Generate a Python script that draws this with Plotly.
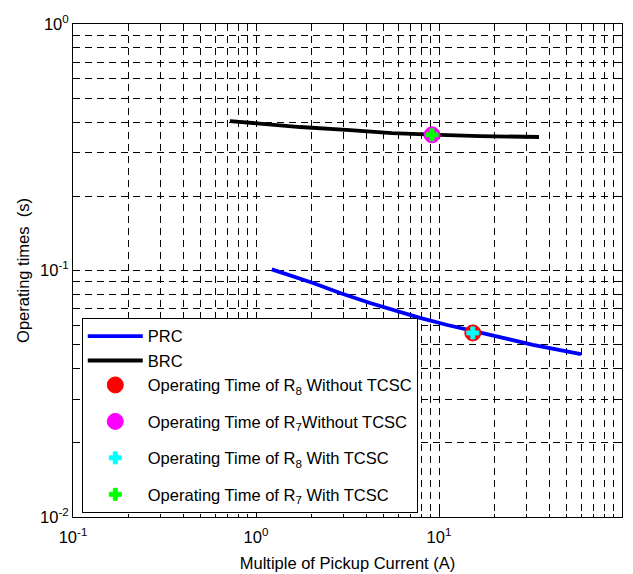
import plotly.graph_objects as go

# ---- data ----
prc_x = [1.22, 2.05, 2.88, 4.20, 7.87, 11.1, 21.5, 32.6, 59.7]
prc_y = [0.101, 0.0890, 0.0810, 0.0738, 0.0642, 0.0601, 0.0537, 0.0499, 0.0458]

brc_x = [0.72, 1.05, 1.74, 3.26, 5.53, 9.16, 16.7, 35.2]
brc_y = [0.404, 0.393, 0.382, 0.371, 0.361, 0.356, 0.351, 0.348]

r8_without = (15.3, 0.0558)
r7_without = (9.16, 0.355)
r8_with = (15.3, 0.0558)
r7_with = (9.16, 0.355)

x_tickvals = [0.1, 1, 10, 100]
x_ticktext = ["10<sup>-1</sup>", "10<sup>0</sup>", "10<sup>1</sup>", "10<sup>2</sup>"]
y_tickvals = [0.01, 0.1, 1]
y_ticktext = ["10<sup>-2</sup>", "10<sup>-1</sup>", "10<sup>0</sup>"]

x_minor = [m * 10.0 ** k for k in range(-1, 2) for m in range(2, 10)]
y_minor = [m * 10.0 ** k for k in range(-2, 0) for m in range(2, 10)]

FONT = "Liberation Sans, Arial, sans-serif"
FS = 16.5

fig = go.Figure()
fig.add_trace(go.Scatter(x=prc_x, y=prc_y, mode="lines", name="PRC", legendgroup="a",
                         line=dict(color="#0000ff", width=3.8)))
fig.add_trace(go.Scatter(x=brc_x, y=brc_y, mode="lines", name="BRC", legendgroup="a",
                         line=dict(color="#000000", width=3.8)))
fig.add_trace(go.Scatter(x=[r8_without[0]], y=[r8_without[1]], mode="markers",
                         name="Operating Time of R<sub>8</sub> Without TCSC", legendgroup="a",
                         marker=dict(symbol="circle", size=16, color="#ff0000",
                                     line=dict(color="#ff0000", width=1))))
fig.add_trace(go.Scatter(x=[r7_without[0]], y=[r7_without[1]], mode="markers",
                         name="Operating Time of R<sub>7</sub>Without TCSC", legendgroup="b",
                         marker=dict(symbol="circle", size=16, color="#ff00ff",
                                     line=dict(color="#ff00ff", width=1))))
fig.add_trace(go.Scatter(x=[r8_with[0]], y=[r8_with[1]], mode="markers",
                         name="Operating Time of R<sub>8</sub> With TCSC", legendgroup="c",
                         marker=dict(symbol="cross", size=10, color="#00ffff",
                                     line=dict(color="#00ffff", width=1))))
fig.add_trace(go.Scatter(x=[r7_with[0]], y=[r7_with[1]], mode="markers",
                         name="Operating Time of R<sub>7</sub> With TCSC", legendgroup="d",
                         marker=dict(symbol="cross", size=10, color="#00ff00",
                                     line=dict(color="#00ff00", width=1))))

grid = dict(showgrid=True, gridcolor="#000000", gridwidth=0.8, griddash="7px,5px")

fig.update_xaxes(type="log", range=[-1, 2], tickmode="array", tickvals=x_tickvals,
                 ticktext=x_ticktext, ticks="inside", ticklen=6, tickcolor="#000",
                 showline=True, linecolor="#000", linewidth=1, mirror="allticks",
                 zeroline=False, automargin=False, ticklabelstandoff=5, **grid,
                 minor=dict(tickmode="array", tickvals=x_minor, ticks="inside",
                            ticklen=3, tickcolor="#000", **grid),
                 title=dict(text="Multiple of Pickup Current (A)", standoff=12,
                            font=dict(size=FS, color="#000", family=FONT)),
                 tickfont=dict(size=FS, color="#000", family=FONT))
fig.update_yaxes(type="log", range=[-2, 0], tickmode="array", tickvals=y_tickvals,
                 ticktext=y_ticktext, ticks="inside", ticklen=6, tickcolor="#000",
                 showline=True, linecolor="#000", linewidth=1, mirror="allticks",
                 zeroline=False, automargin=False, **grid,
                 minor=dict(tickmode="array", tickvals=y_minor, ticks="inside",
                            ticklen=3, tickcolor="#000", **grid),
                 title=dict(text="Operating times  (s)", standoff=6,
                            font=dict(size=FS, color="#000", family=FONT)),
                 tickfont=dict(size=FS, color="#000", family=FONT))

# page body keeps an 8px default margin, so the figure is sized to fit after it
fig.update_layout(
    width=625, height=566,
    margin=dict(l=65, r=11, t=16, b=57, autoexpand=False),
    paper_bgcolor="white", plot_bgcolor="white",
    font=dict(family=FONT, size=FS, color="#000"),
    showlegend=True,
    legend=dict(x=0.016, y=0.404, xanchor="left", yanchor="top",
                bgcolor="white", bordercolor="#000", borderwidth=1,
                font=dict(size=FS, color="#000", family=FONT),
                itemwidth=55, tracegroupgap=12, traceorder="grouped"),
)

fig.write_html("out.html")
